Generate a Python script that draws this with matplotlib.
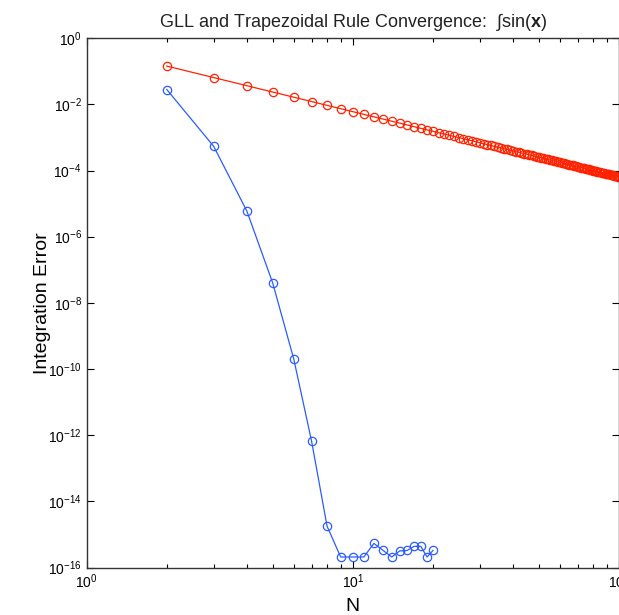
import matplotlib
matplotlib.use('Agg')
import matplotlib.pyplot as plt
import numpy as np

plt.rcParams['font.family'] = ['Liberation Sans', 'DejaVu Sans']
plt.rcParams['mathtext.fontset'] = 'custom'
plt.rcParams['mathtext.rm'] = 'Liberation Sans'
plt.rcParams['mathtext.bf'] = 'Liberation Sans:bold'

# GLL quadrature error, N = 2..20
gll_n = list(range(2, 21))
gll_err = [2.8e-2, 5.4e-4, 5.9e-6, 4.0e-8, 2.0e-10, 6.6e-13, 1.8e-15,
           2.1e-16, 2.1e-16, 2.1e-16, 5.4e-16, 3.3e-16, 2.1e-16, 3.2e-16,
           3.3e-16, 4.4e-16, 4.4e-16, 2.1e-16, 3.3e-16]

# trapezoidal rule error, N = 2..100
trap_n = list(range(2, 101))
trap_err = [0.143, 0.0643, 0.0365, 0.0235, 0.01641, 0.01212, 0.00931, 0.00738,
            0.00600, 0.00497, 0.00419, 0.00358, 0.00309, 0.00270, 0.00238,
            0.00211, 0.00188, 0.00169, 0.00153, 0.00139, 0.00127, 0.001163,
            0.001070, 0.000987, 0.000914, 0.000848, 0.000789, 0.000737,
            0.000689, 0.000646, 0.000607, 0.000571, 0.000538, 0.000509,
            0.000481, 0.000456, 0.000433, 0.000411, 0.000391, 0.000372,
            0.000355, 0.000339, 0.000324, 0.000310, 0.000297, 0.000285,
            0.000273, 0.000262, 0.000252, 0.000242, 0.000233, 0.000225,
            0.000216, 0.000209, 0.000201, 0.000195, 0.000188, 0.000182,
            0.000176, 0.000170, 0.000165, 0.000160, 0.000155, 0.000150,
            0.000146, 0.000142, 0.000137, 0.000134, 0.000130, 0.000126,
            0.000123, 0.000120, 0.000116, 0.000113, 0.000110, 0.000108,
            0.000105, 0.000102, 9.98e-5, 9.74e-5, 9.50e-5, 9.28e-5, 9.06e-5,
            8.85e-5, 8.65e-5, 8.46e-5, 8.27e-5, 8.09e-5, 7.91e-5, 7.74e-5,
            7.58e-5, 7.42e-5, 7.26e-5, 7.11e-5, 6.97e-5, 6.83e-5, 6.69e-5,
            6.56e-5, 6.43e-5]

yticks = [1e0, 1e-2, 1e-4, 1e-6, 1e-8, 1e-10, 1e-12, 1e-14, 1e-16]

fig = plt.figure(figsize=(6.19, 6.15), dpi=100)
ax = fig.add_axes([0.140, 0.077, 0.860, 0.861])

ax.loglog(trap_n, trap_err, '-o', color='#ff2200', lw=0.9, ms=6,
          mfc='none', mew=0.9, clip_on=False)
ax.loglog(gll_n, gll_err, '-o', color='#2a5cff', lw=0.9, ms=6,
          mfc='none', mew=0.9)

ax.set_xlim(1, 100)
ax.set_ylim(1e-16, 1)
ax.set_yticks(yticks)
ax.yaxis.set_minor_locator(matplotlib.ticker.NullLocator())

ax.tick_params(which='both', direction='in', top=True, right=True,
               labelsize=10, width=0.8)
ax.tick_params(which='major', length=5)
ax.tick_params(which='minor', length=3)
for s in ax.spines.values():
    s.set_linewidth(1.0)
    s.set_color('#333333')

ax.set_title(r'GLL and Trapezoidal Rule Convergence:  $\int$sin($\mathbf{x}$)',
             fontsize=13, pad=8, color='#222222')
ax.set_ylabel('Integration Error', fontsize=14, labelpad=-2)
ax.set_xlabel('N', fontsize=14, labelpad=5)

fig.savefig('out.png', dpi=100)
